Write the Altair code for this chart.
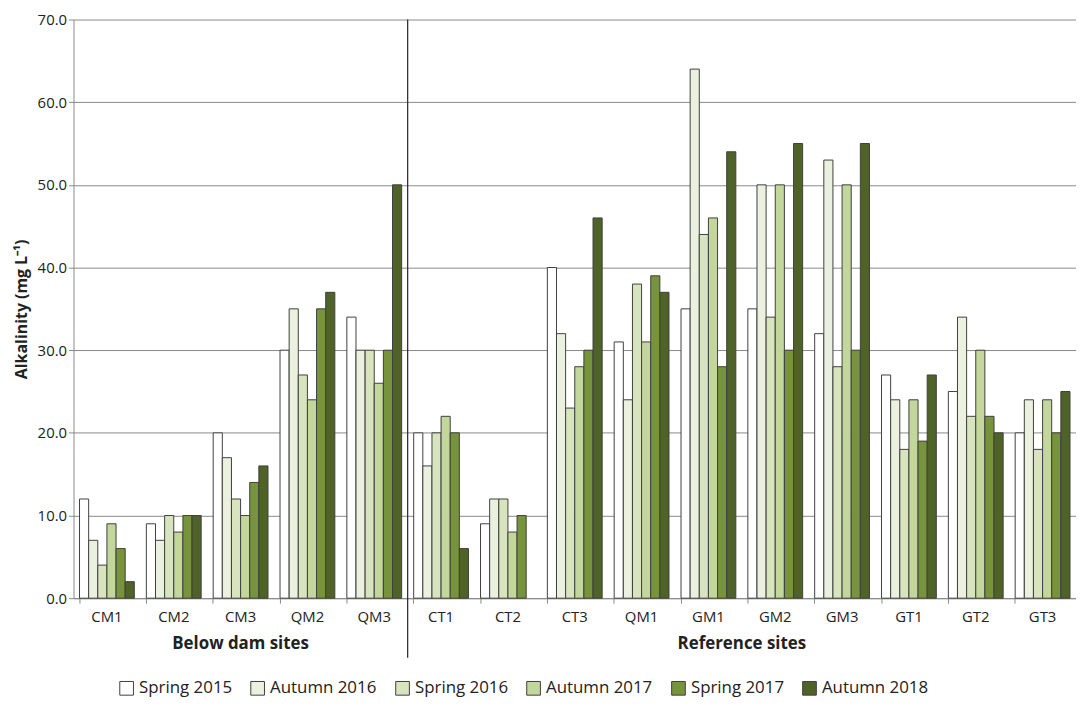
import altair as alt
import pandas as pd

sites = ["CM1", "CM2", "CM3", "QM2", "QM3", "CT1", "CT2", "CT3",
         "QM1", "GM1", "GM2", "GM3", "GT1", "GT2", "GT3"]
seasons = ["Spring 2015", "Autumn 2016", "Spring 2016",
           "Autumn 2017", "Spring 2017", "Autumn 2018"]
colors = ["#FFFFFF", "#EBF1DE", "#D7E4BD", "#C3D69B", "#77933C", "#4F6228"]

spring_2015 = [12, 9, 20, 30, 34, 20, 9, 40, 31, 35, 35, 32, 27, 25, 20]
autumn_2016 = [7, 7, 17, 35, 30, 16, 12, 32, 24, 64, 50, 53, 24, 34, 24]
spring_2016 = [4, 10, 12, 27, 30, 20, 12, 23, 38, 44, 34, 28, 18, 22, 18]
autumn_2017 = [9, 8, 10, 24, 26, 22, 8, 28, 31, 46, 50, 50, 24, 30, 24]
spring_2017 = [6, 10, 14, 35, 30, 20, 10, 30, 39, 28, 30, 30, 19, 22, 20]
autumn_2018 = [2, 10, 16, 37, 50, 6, None, 46, 37, 54, 55, 55, 27, 20, 25]

series = [spring_2015, autumn_2016, spring_2016, autumn_2017, spring_2017, autumn_2018]
rows = []
for s, vals in zip(seasons, series):
    for site, v in zip(sites, vals):
        if v is not None:
            rows.append({"site": site, "season": s, "value": v})
df = pd.DataFrame(rows)

W, H = 1010, 583
FONT = "Open Sans"

bars = alt.Chart(df).mark_bar(stroke="#404040", strokeWidth=1).encode(
    x=alt.X("site:N", sort=sites, title=None,
            scale=alt.Scale(paddingInner=0.18, paddingOuter=0.09),
            axis=alt.Axis(labelAngle=0, bandPosition=0, labelFontSize=15,
                          labelPadding=6, tickColor="#888", domainColor="#888",
                          labelColor="#222", labelFont=FONT)),
    xOffset=alt.XOffset("season:N", sort=seasons),
    y=alt.Y("value:Q", title="Alkalinity (mg L⁻¹)",
            scale=alt.Scale(domain=[0, 70]),
            axis=alt.Axis(values=list(range(0, 71, 10)), format=".1f",
                          labelFontSize=15, titleFontSize=16, labelFont=FONT,
                          titleFont=FONT, titleColor="#222", labelColor="#222",
                          gridColor="#888", domainColor="#888", tickColor="#888",
                          titlePadding=8)),
    color=alt.Color("season:N", sort=seasons,
                    scale=alt.Scale(domain=seasons, range=colors),
                    legend=alt.Legend(orient="none", legendX=45, legendY=H + 82,
                                      direction="horizontal",
                                      title=None, symbolType="square",
                                      symbolSize=190, symbolStrokeColor="#404040",
                                      symbolStrokeWidth=1, labelFontSize=17,
                                      labelFont=FONT, columnPadding=16,
                                      labelColor="#222")),
)

sep = alt.Chart(pd.DataFrame({"a": [0]})).mark_rule(color="#222", strokeWidth=1.2).encode(
    x=alt.value(W * 5 / 15), y=alt.value(0), y2=alt.value(H + 60)
)

labels = alt.Chart(pd.DataFrame({
    "t": ["Below dam sites", "Reference sites"],
    "px": [W * 2.5 / 15, W * 10 / 15],
})).mark_text(fontSize=17, fontWeight="bold", font=FONT, color="#222").encode(
    x=alt.X("px:Q", scale=None), y=alt.value(H + 46), text="t:N"
)

chart = alt.layer(bars, sep, labels).properties(
    width=W, height=H, padding={"left": 5, "top": 2, "right": 0, "bottom": 5}
).configure_view(stroke=None)

chart.save("out.html", embed_options={"renderer": "svg", "actions": False})
